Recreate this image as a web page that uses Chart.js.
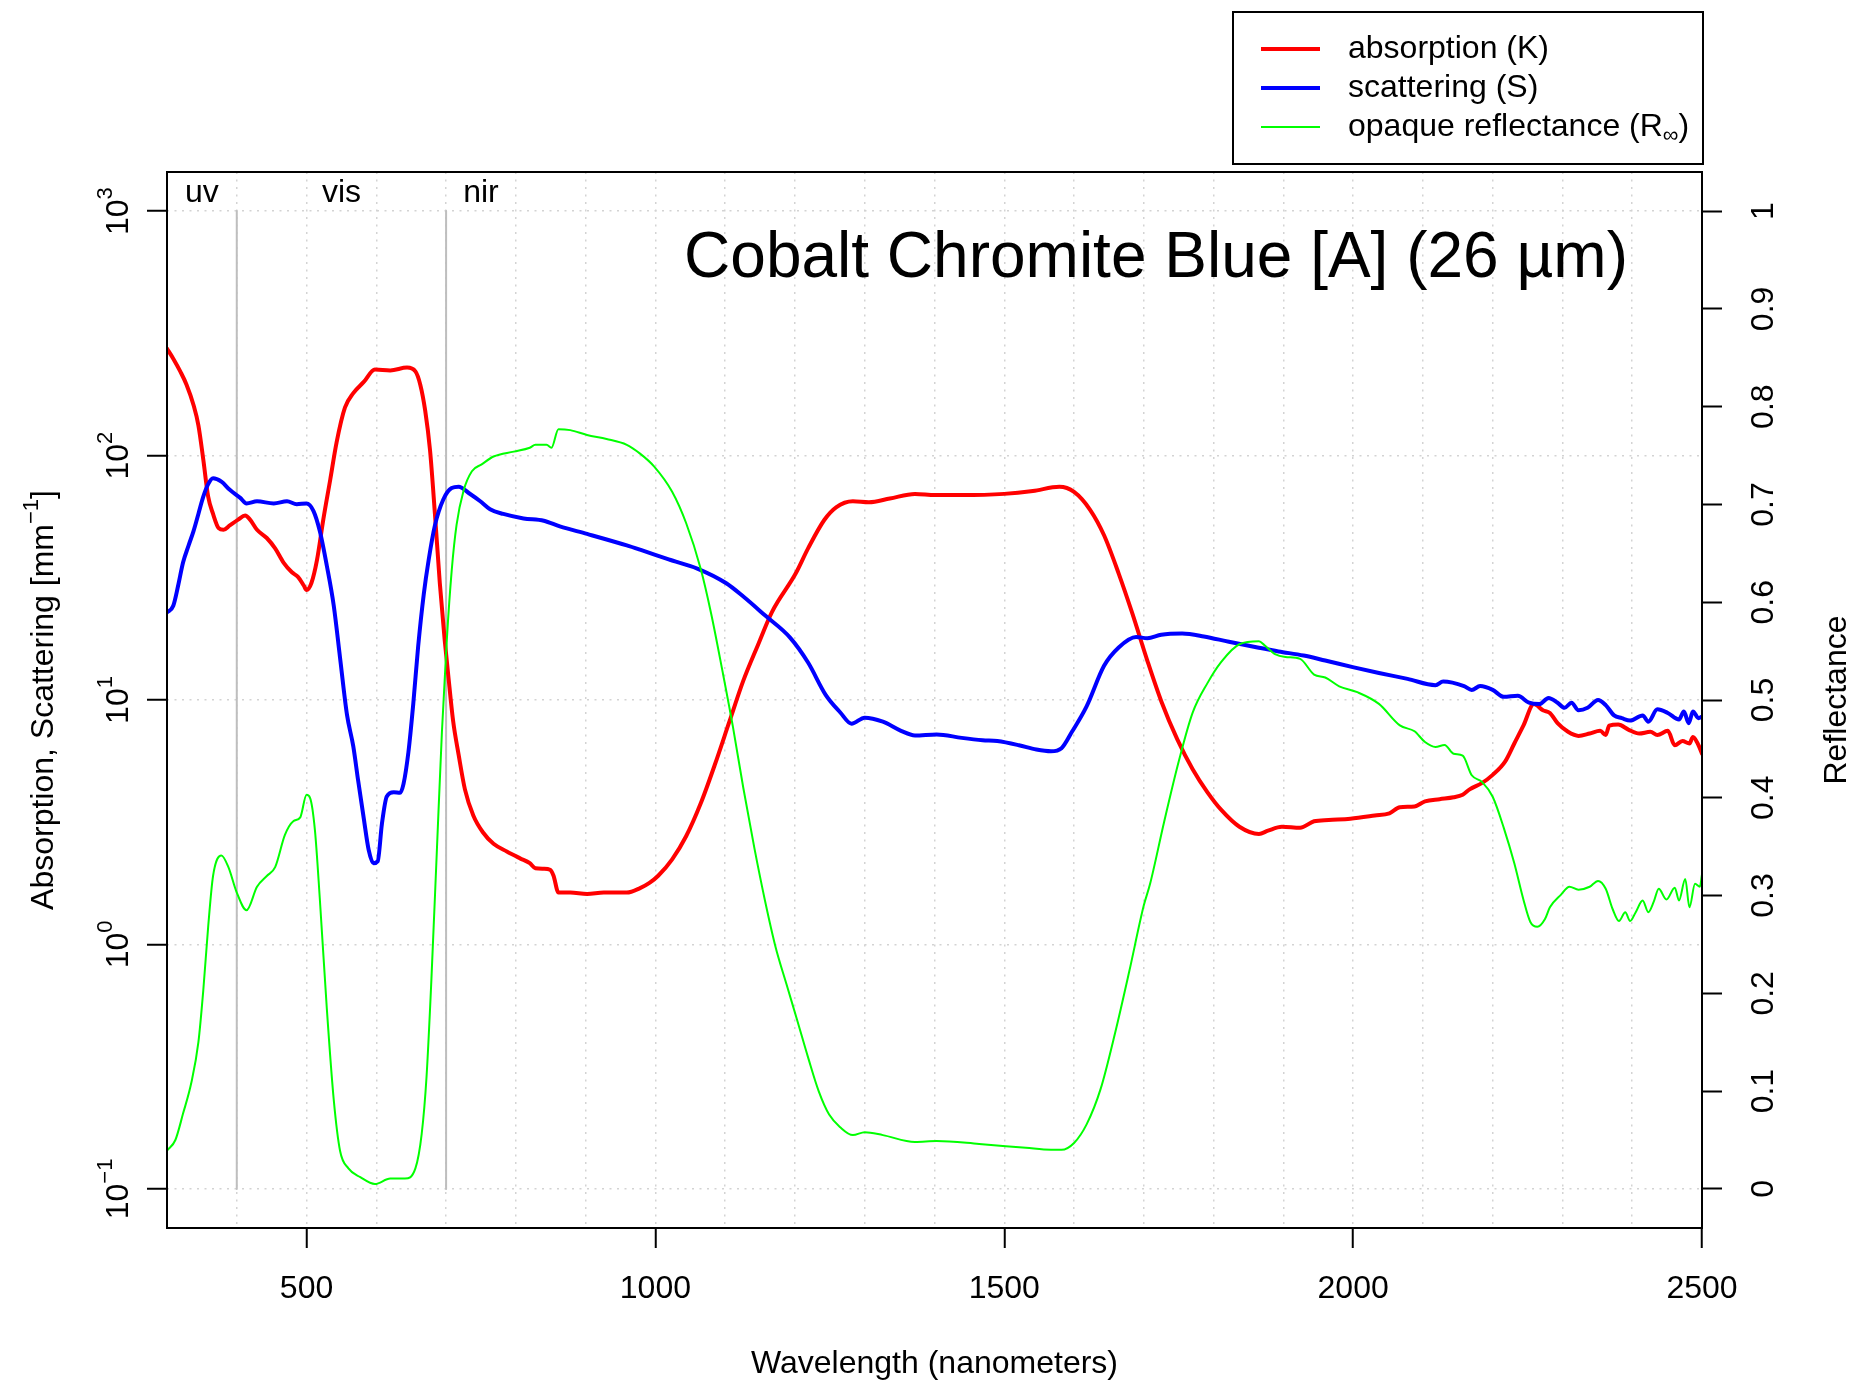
<!DOCTYPE html>
<html><head><meta charset="utf-8">
<script src="https://cdn.jsdelivr.net/npm/chart.js@4/dist/chart.umd.min.js"></script>
<style>html,body{margin:0;padding:0;background:#fff;}canvas{display:block;}</style>
</head><body>
<canvas id="c" width="1860" height="1382"></canvas>
<script>
// ---- data ----
const wlK = [300,309,319,328,338,345,352,359,366,374,381,390,402,412,419,429,443,455,467,479,488,496,500,507,515,524,534,543,555,567,582,598,620,644,656,663,670,677,684,691,698,703,710,718,727,739,753,768,787,806,820,828,840,849,854,861,878,902,926,959,978,992,1004,1024,1044,1065,1085,1106,1126,1147,1167,1201,1219,1242,1259,1283,1306,1336,1372,1401,1439,1500,1541,1579,1600,1623,1643,1664,1684,1705,1725,1748,1770,1791,1811,1837,1865,1878,1898,1924,1944,1965,1996,2031,2052,2067,2088,2103,2124,2144,2157,2167,2185,2200,2218,2231,2244,2259,2272,2282,2293,2308,2323,2339,2354,2362,2367,2380,2395,2410,2426,2436,2451,2461,2472,2482,2487,2495,2500];
const absorptionK = [274,249,221,195,161,133,96.4,67.9,57.7,50.5,49.7,51.8,54.7,56.8,54.7,49.7,46.0,41.7,36.5,33.3,31.8,29.4,28.2,30.1,37.4,54.7,79.8,113,157,180,200,225,223,229,221,195,153,105,57.7,30.1,17.6,12.7,8.24,5.96,4.31,3.37,2.87,2.58,2.40,2.25,2.15,2.05,2.04,2.02,1.91,1.63,1.63,1.61,1.63,1.63,1.70,1.79,1.91,2.23,2.77,3.78,5.42,8.15,12.0,16.8,22.9,32.9,41.8,54.5,61.4,65.0,64.4,66.7,69.7,68.9,68.9,69.7,71.6,74.5,71.0,60.0,47.2,32.9,22.4,14.5,9.89,6.9,5.21,4.20,3.55,3.03,2.83,2.92,3.03,3.00,3.19,3.23,3.27,3.37,3.44,3.64,3.67,3.85,3.93,4.00,4.10,4.31,4.58,4.94,5.61,6.64,7.85,9.62,9.08,8.85,8.04,7.41,7.13,7.29,7.48,7.19,7.85,7.93,7.55,7.29,7.41,7.19,7.48,6.53,6.79,6.64,7.06,6.53,6.03];

const wlS = [300,309,316,323,331,338,345,352,359,366,378,390,405,414,429,453,472,486,500,510,519,529,539,548,558,567,574,582,589,596,602,608,615,625,634,639,646,653,660,668,675,684,696,708,718,734,749,763,782,811,840,863,902,959,978,1019,1060,1101,1126,1157,1193,1219,1244,1265,1281,1300,1326,1352,1372,1403,1439,1469,1490,1521,1546,1567,1582,1597,1618,1643,1664,1689,1705,1725,1755,1786,1822,1863,1893,1929,1960,2001,2037,2078,2118,2129,2159,2170,2182,2200,2216,2236,2252,2267,2280,2293,2303,2313,2323,2336,2351,2362,2374,2385,2397,2415,2423,2436,2451,2467,2474,2481,2487,2495,2500];
const scatteringS = [22.8,24.3,29.4,36.5,42.9,49.1,57.7,67.9,76.4,80.7,78.2,72.4,67.1,63.7,65.0,63.7,65.0,63.2,63.7,59.3,49.1,35.5,24.3,14.9,8.69,6.46,4.67,3.28,2.44,2.15,2.19,3.11,4.03,4.19,4.17,4.54,6.12,9.68,16.6,27.1,37.4,51.8,66.1,73.6,74.5,69.8,65.0,60.3,57.7,55.3,54.1,51.3,47.8,42.9,41.2,37.6,34.5,30.1,26.5,22.2,18.0,14.2,10.5,8.89,8.00,8.47,8.15,7.48,7.16,7.23,7.00,6.85,6.79,6.53,6.27,6.17,6.35,7.41,9.42,13.8,16.4,18.1,17.9,18.5,18.7,18.2,17.3,16.4,15.8,15.2,14.5,13.6,12.9,12.2,11.5,11.9,11.4,11.0,11.4,11.0,10.3,10.4,9.75,9.62,10.2,9.75,9.29,9.75,9.08,9.29,10.0,9.53,8.65,8.43,8.24,8.65,8.15,9.16,8.85,8.32,8.97,8.04,8.97,8.43,8.55];

const wlR = [300,312,323,335,345,352,359,366,378,388,400,414,429,443,455,469,481,491,500,505,512,519,529,539,548,560,577,598,620,641,656,665,672,679,687,694,701,708,715,725,737,751,768,797,820,828,844,851,861,878,902,930,959,978,998,1024,1044,1065,1080,1096,1111,1126,1142,1157,1172,1188,1203,1219,1234,1249,1265,1283,1300,1326,1372,1403,1464,1531,1567,1582,1600,1618,1638,1659,1679,1700,1709,1729,1750,1770,1791,1811,1837,1865,1873,1888,1903,1924,1944,1960,1980,2006,2037,2067,2088,2103,2118,2131,2144,2157,2170,2185,2200,2216,2231,2244,2254,2264,2275,2282,2298,2310,2323,2339,2351,2362,2372,2381,2390,2397,2405,2415,2423,2431,2438,2449,2461,2467,2476,2482,2490,2497,2500];
const reflectanceR = [0.039,0.050,0.077,0.109,0.150,0.203,0.268,0.320,0.341,0.329,0.303,0.285,0.309,0.320,0.329,0.362,0.376,0.380,0.403,0.400,0.367,0.297,0.185,0.091,0.039,0.021,0.012,0.005,0.0105,0.0105,0.021,0.056,0.115,0.215,0.350,0.467,0.561,0.632,0.679,0.714,0.734,0.741,0.749,0.754,0.758,0.761,0.761,0.758,0.777,0.776,0.771,0.767,0.761,0.752,0.739,0.713,0.681,0.634,0.588,0.530,0.473,0.410,0.348,0.295,0.248,0.209,0.173,0.134,0.100,0.076,0.063,0.055,0.058,0.055,0.048,0.049,0.046,0.042,0.040,0.040,0.047,0.066,0.102,0.160,0.222,0.290,0.312,0.375,0.437,0.487,0.517,0.539,0.557,0.560,0.556,0.547,0.544,0.542,0.526,0.523,0.514,0.508,0.496,0.474,0.468,0.457,0.452,0.454,0.445,0.443,0.423,0.416,0.401,0.369,0.333,0.296,0.273,0.268,0.276,0.288,0.301,0.309,0.306,0.309,0.315,0.307,0.286,0.274,0.283,0.274,0.283,0.295,0.283,0.294,0.307,0.296,0.308,0.295,0.317,0.288,0.312,0.309,0.322];

const xGrid = [300,400,500,600,700,800,900,1000,1100,1200,1300,1400,1500,1600,1700,1800,1900,2000,2100,2200,2300,2400,2500];
const xTickLabels = [500,1000,1500,2000,2500];
const yLogTicks = [0.1,1,10,100,1000];
const yRightTicks = [0,0.1,0.2,0.3,0.4,0.5,0.6,0.7,0.8,0.9,1];
const regionBounds = [400,700];
const regionNames = ['uv','vis','nir'];
const regionNameAt = [350,550,750];
const seriesNames = ['absorption (K)','scattering (S)','opaque reflectance (R'];
const chartTitle = 'Cobalt Chromite Blue [A] (26 \u00b5m)';
const xTitle = 'Wavelength (nanometers)';
const yTitle = 'Absorption, Scattering [mm';
const y1Title = 'Reflectance';

// ---- drawing ----
const FF = '"Liberation Sans", Arial, Helvetica, sans-serif';
const FS = 32;
Chart.defaults.font.family = FF;
const pairs = (xs, ys) => xs.map((x, i) => ({x, y: ys[i]}));
const COLORS = ['#FF0000', '#0000FF', '#00FF00'];

const regionSets = regionBounds.map(b => ({
  data: [{x: b, y: yLogTicks[yLogTicks.length - 1]}, {x: b, y: yLogTicks[0]}],
  borderColor: '#BEBEBE', borderWidth: 2, pointRadius: 0, yAxisID: 'y', order: 10
}));

const annot = {
  id: 'annot',
  afterDraw(chart) {
    const ctx = chart.ctx;
    const ca = chart.chartArea;
    const xs = chart.scales.x, ys = chart.scales.y, yr = chart.scales.y1;
    const F = FS + 'px ' + FF, FSUP = '22px ' + FF;
    ctx.save();
    ctx.fillStyle = '#000';
    ctx.strokeStyle = '#000';
    // box
    ctx.lineWidth = 2;
    ctx.strokeRect(ca.left, ca.top, ca.right - ca.left, ca.bottom - ca.top);

    // left tick labels 10^n
    for (const t of ys.ticks) {
      const py = ys.getPixelForValue(t.value);
      const e = Math.round(Math.log10(t.value));
      const sup = e < 0 ? '\u2212' + (-e) : String(e);
      ctx.save();
      ctx.translate(ca.left - 39, py);
      ctx.rotate(-Math.PI / 2);
      ctx.textAlign = 'left'; ctx.textBaseline = 'alphabetic';
      ctx.font = F; const w1 = ctx.measureText('10').width;
      ctx.font = FSUP; const w2 = ctx.measureText(sup).width;
      const x0 = -(w1 + w2) / 2;
      ctx.font = F; ctx.fillText('10', x0, 0);
      ctx.font = FSUP; ctx.fillText(sup, x0 + w1, -16);
      ctx.restore();
    }
    // right tick labels
    for (const t of yr.ticks) {
      const py = yr.getPixelForValue(t.value);
      ctx.save();
      ctx.translate(ca.right + 71, py);
      ctx.rotate(-Math.PI / 2);
      ctx.textAlign = 'center'; ctx.textBaseline = 'alphabetic';
      ctx.font = F;
      ctx.fillText(String(Math.round(t.value * 10) / 10), 0, 0);
      ctx.restore();
    }
    // axis titles
    ctx.font = F;
    ctx.textAlign = 'center'; ctx.textBaseline = 'alphabetic';
    ctx.fillText(xTitle, (ca.left + ca.right) / 2, 1373);
    // left title with superscript
    ctx.save();
    ctx.translate(53, (ca.top + ca.bottom) / 2);
    ctx.rotate(-Math.PI / 2);
    ctx.textAlign = 'left';
    ctx.font = F; const a1 = ctx.measureText(yTitle).width; const a3 = ctx.measureText(']').width;
    ctx.font = FSUP; const a2 = ctx.measureText('\u22121').width;
    let x0 = -(a1 + a2 + a3) / 2;
    ctx.font = F; ctx.fillText(yTitle, x0, 0);
    ctx.font = FSUP; ctx.fillText('\u22121', x0 + a1, -15);
    ctx.font = F; ctx.fillText(']', x0 + a1 + a2, 0);
    ctx.restore();
    // right title
    ctx.save();
    ctx.translate(1846, (ca.top + ca.bottom) / 2);
    ctx.rotate(-Math.PI / 2);
    ctx.textAlign = 'center';
    ctx.font = F;
    ctx.fillText(y1Title, 0, 0);
    ctx.restore();

    // region labels
    ctx.font = F; ctx.textAlign = 'center';
    regionNames.forEach((n, i) => ctx.fillText(n, xs.getPixelForValue(regionNameAt[i]), ca.top + 30));

    // main title
    ctx.font = '64px ' + FF; ctx.textAlign = 'center';
    ctx.fillText(chartTitle, 1156, 277);

    // legend
    ctx.lineWidth = 2;
    ctx.strokeRect(1233, 12, 470, 152);
    const ly = [49, 88, 127];
    const lw = [4, 4, 2];
    seriesNames.forEach((n, i) => {
      ctx.strokeStyle = COLORS[i]; ctx.lineWidth = lw[i];
      ctx.beginPath(); ctx.moveTo(1261, ly[i]); ctx.lineTo(1320, ly[i]); ctx.stroke();
      ctx.font = F; ctx.textAlign = 'left';
      ctx.fillText(n, 1348, ly[i] + 9);
      if (i === 2) {
        const w = ctx.measureText(n).width;
        ctx.font = FSUP; ctx.fillText('\u221e', 1348 + w, ly[i] + 15);
        const w2 = ctx.measureText('\u221e').width;
        ctx.font = F; ctx.fillText(')', 1348 + w + w2, ly[i] + 9);
      }
    });
    ctx.restore();
  }
};

new Chart(document.getElementById('c'), {
  type: 'line',
  data: {
    datasets: [
      {label: seriesNames[0], data: pairs(wlK, absorptionK), borderColor: COLORS[0], borderWidth: 4, yAxisID: 'y', order: 3, cubicInterpolationMode: 'monotone'},
      {label: seriesNames[1], data: pairs(wlS, scatteringS), borderColor: COLORS[1], borderWidth: 4, yAxisID: 'y', order: 2, cubicInterpolationMode: 'monotone'},
      {label: seriesNames[2], data: pairs(wlR, reflectanceR), borderColor: COLORS[2], borderWidth: 2, yAxisID: 'y1', order: 1, cubicInterpolationMode: 'monotone'},
      ...regionSets
    ]
  },
  options: {
    responsive: false, animation: false, devicePixelRatio: 1,
    layout: {padding: {top: 172, left: 0, right: 0, bottom: 0}},
    plugins: {legend: {display: false}, tooltip: {enabled: false}, title: {display: false}},
    elements: {point: {radius: 0}, line: {tension: 0, borderJoinStyle: 'round', borderCapStyle: 'round'}},
    scales: {
      x: {
        type: 'linear', position: 'bottom', min: 300, max: 2500,
        afterFit(s) { s.height = 154; },
        afterBuildTicks(s) { s.ticks = xGrid.map(v => ({value: v})); },
        ticks: {autoSkip: false, maxRotation: 0, minRotation: 0, padding: 21.5, color: '#000', font: {size: FS},
          callback: v => xTickLabels.includes(v) ? String(v) : ''},
        grid: {color: '#D3D3D3', lineWidth: 1.5, drawTicks: true, tickLength: 20, tickWidth: 2,
          tickColor: c => (c.tick && xTickLabels.includes(c.tick.value)) ? '#000' : 'rgba(0,0,0,0)', tickBorderDash: []},
        border: {display: false, dash: [2, 5.5]}
      },
      y: {
        type: 'logarithmic', position: 'left', min: Math.pow(10, -1.16), max: Math.pow(10, 3.16),
        afterFit(s) { s.width = 167; },
        afterBuildTicks(s) { s.ticks = yLogTicks.map(v => ({value: v})); },
        ticks: {display: false},
        grid: {color: '#D3D3D3', lineWidth: 1.5, drawTicks: true, tickLength: 20, tickWidth: 2, tickColor: '#000', tickBorderDash: []},
        border: {display: false, dash: [2, 5.5]}
      },
      y1: {
        type: 'linear', position: 'right', min: -0.04, max: 1.04,
        afterFit(s) { s.width = 158; },
        afterBuildTicks(s) { s.ticks = yRightTicks.map(v => ({value: v})); },
        ticks: {display: false},
        grid: {drawOnChartArea: false, drawTicks: true, tickLength: 20, tickWidth: 2, tickColor: '#000'},
        border: {display: false}
      }
    }
  },
  plugins: [annot]
});
</script>
</body></html>
